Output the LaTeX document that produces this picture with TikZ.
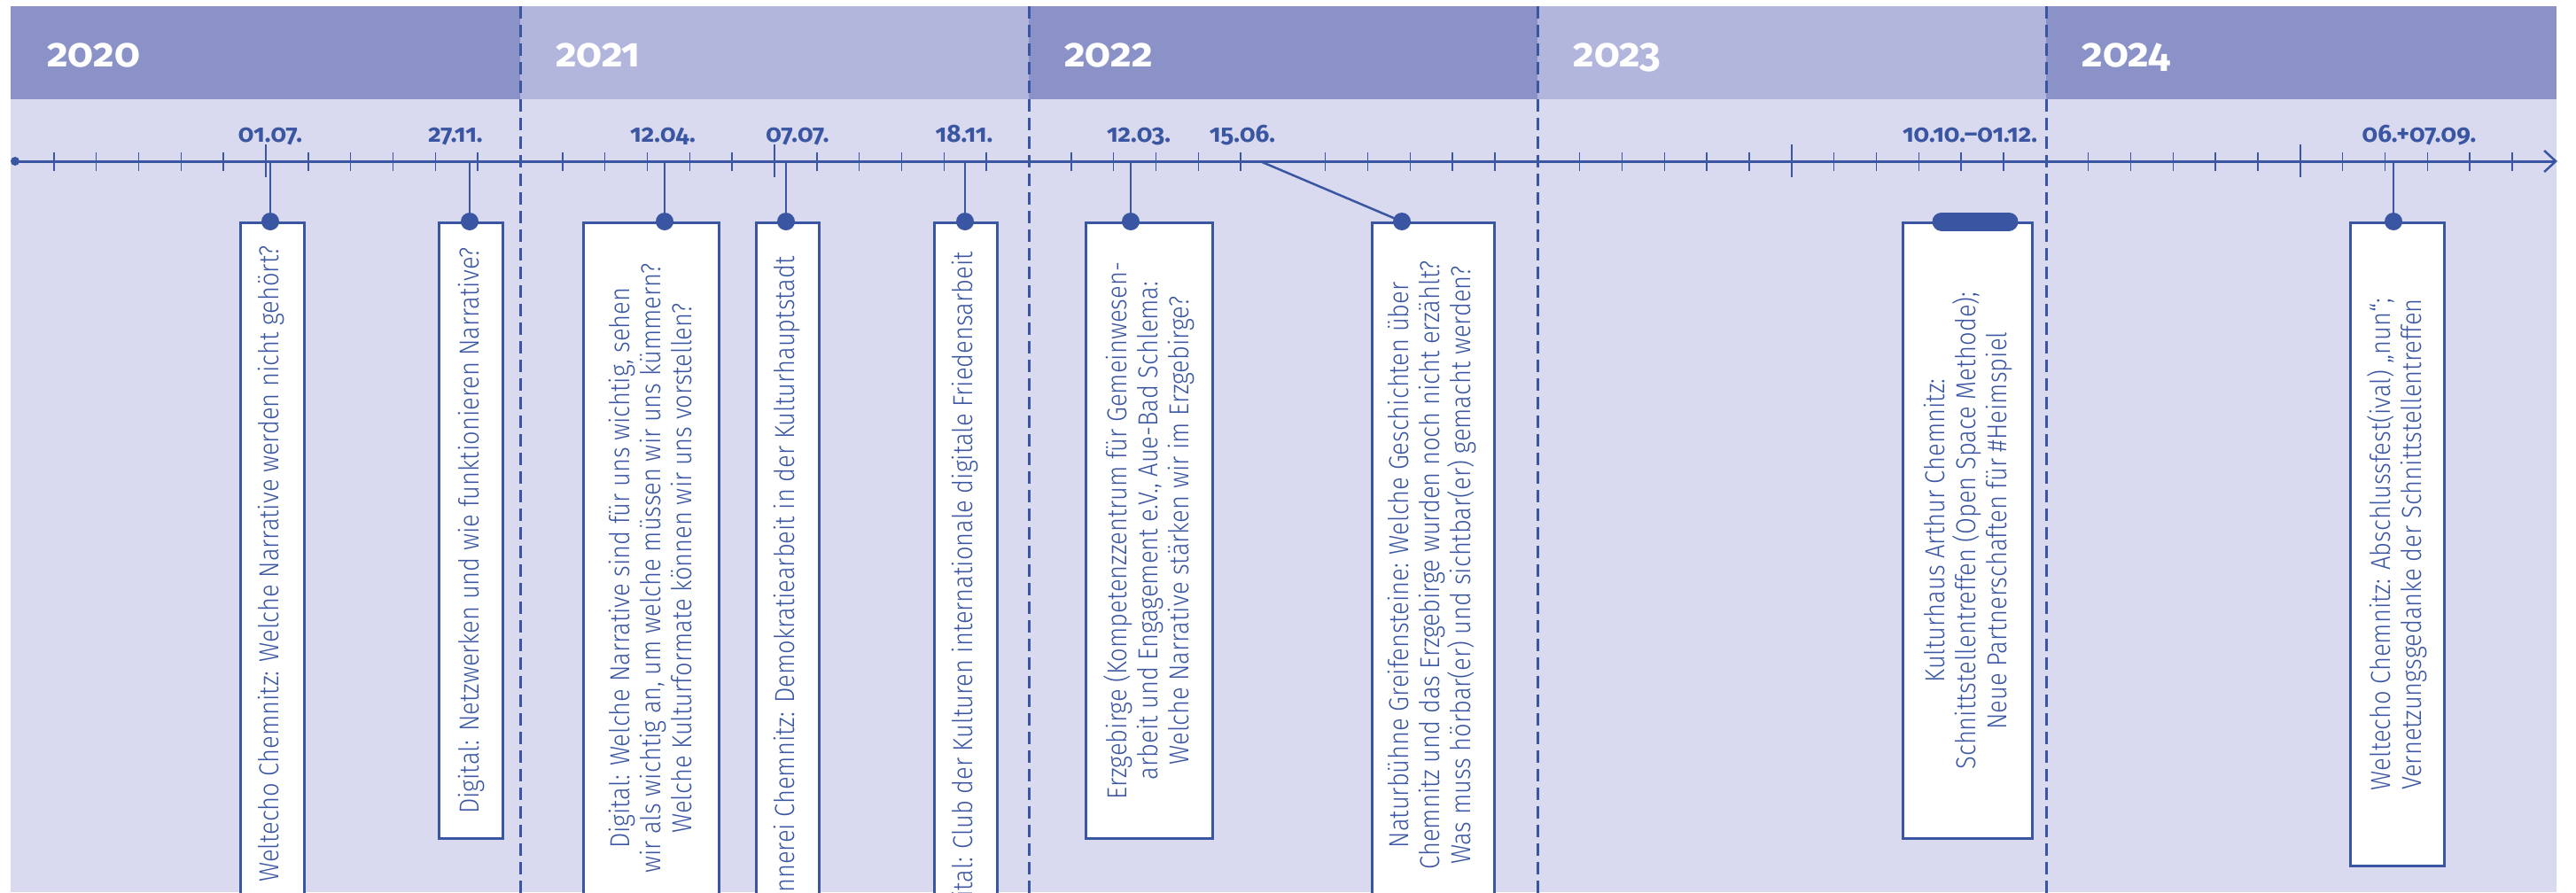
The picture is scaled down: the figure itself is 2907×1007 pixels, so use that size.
\documentclass[tikz,border=0pt]{standalone}
\usepackage{fontspec}
\usetikzlibrary{arrows.meta}
\IfFontExistsTF{Fira Sans Light}{%
  \newfontfamily\bodyfont{Fira Sans Light}[FakeStretch=0.88]}{%
  \newfontfamily\bodyfont{Fira Sans}[FakeStretch=0.88]}
\newfontfamily\datefont{Fira Sans}[Numbers=OldStyle]
\definecolor{hdark}{HTML}{8A92C7}
\definecolor{hlight}{HTML}{B2B5DC}
\definecolor{bodybg}{HTML}{D9DAEF}
\definecolor{tblue}{HTML}{3A56A2}
\begin{document}
\begin{tikzpicture}[x=1pt,y=-1pt,
  yearlabel/.style={anchor=base west, text=white, font=\datefont\bfseries\fontsize{46}{50}\selectfont, inner sep=0},
  datelabel/.style={anchor=base, text=tblue, font=\datefont\bfseries\fontsize{28}{30}\selectfont, inner sep=0},
  axisline/.style={draw=tblue, line width=3pt},
  tickmark/.style={draw=tblue, line width=1.5pt},
  yeardiv/.style={draw=tblue, line width=3pt, dash pattern=on 14pt off 7pt},
  eventbox/.style={draw=tblue, line width=3pt, fill=white, inner sep=0, anchor=north west},
  evtext/.style={rotate=90, text=tblue, align=center, font=\bodyfont\fontsize{31}{35}\selectfont, inner sep=0},
  conn/.style={draw=tblue, line width=2.5pt},
  evdot/.style={circle, fill=tblue, inner sep=0, minimum size=20pt},
  pill/.style={draw=tblue, line width=21pt, line cap=round}
]
\useasboundingbox (0,0) rectangle (2907,1007);
\clip (0,0) rectangle (2907,1007);
% background
\fill[bodybg] (12,7) rectangle (2885,1007);
\fill[hdark]  (12,7) rectangle (587,112);
\fill[hlight] (587,7) rectangle (1161,112);
\fill[hdark]  (1161,7) rectangle (1735,112);
\fill[hlight] (1735,7) rectangle (2309,112);
\fill[hdark]  (2309,7) rectangle (2885,112);
% year labels
\node[yearlabel] (y2020) at (53,75) {2020};
\node[yearlabel] (y2021) at (627,75) {2021};
\node[yearlabel] (y2022) at (1201,75) {2022};
\node[yearlabel] (y2023) at (1775,75) {2023};
\node[yearlabel] (y2024) at (2349,75) {2024};
% year dividers
\foreach \xx in {587,1161,1735,2309}{
  \draw[yeardiv] (\xx,7) -- (\xx,1010);
}
% ticks
\foreach \k in {1,...,59}{
  \pgfmathtruncatemacro\mm{mod(\k,12)}
  \pgfmathsetmacro\tx{13+47.83*\k}
  \ifnum\mm=0\relax\else
    \ifnum\mm=6\relax
      \ifnum\k=30\relax\else\draw[tickmark] (\tx,163) -- (\tx,200);\fi
    \else
      \draw[tickmark] (\tx,172) -- (\tx,193);
    \fi
  \fi
}
% axis
\node[circle, fill=tblue, inner sep=0, minimum size=10pt] (axs) at (17,182) {};
\coordinate (axe) at (2886,182);
\draw[axisline, -{Straight Barb[length=13pt,width=24pt,line width=2.5pt]}] (axs.center) -- (axe);
% date labels
\node[datelabel] (l1) at (305,160) {01.07.};
\node[datelabel] (l2) at (514,160) {27.11.};
\node[datelabel] (l3) at (748,160) {12.04.};
\node[datelabel] (l4) at (900,160) {07.07.};
\node[datelabel] (l5) at (1088,160) {18.11.};
\node[datelabel] (l6) at (1285,160) {12.03.};
\node[datelabel] (l7) at (1402,160) {15.06.};
\node[datelabel] (l8) at (2223,160) {10.10.–01.12.};
\node[datelabel] (l9) at (2730,160) {06.+07.09.};
% axis anchor points
\coordinate (a1) at (305,182);
\coordinate (a2) at (530,182);
\coordinate (a3) at (750,182);
\coordinate (a4) at (887,182);
\coordinate (a5) at (1089,182);
\coordinate (a6) at (1276,182);
\coordinate (a7) at (1422,182);
\coordinate (a9) at (2701,182);
% boxes
\node[eventbox, minimum width=72, minimum height=800] (b1) at (270,250) {};
\node[eventbox, minimum width=72, minimum height=695] (b2) at (494,250) {};
\node[eventbox, minimum width=153, minimum height=800] (b3) at (657,250) {};
\node[eventbox, minimum width=71, minimum height=800] (b4) at (852,250) {};
\node[eventbox, minimum width=71, minimum height=800] (b5) at (1053,250) {};
\node[eventbox, minimum width=143, minimum height=695] (b6) at (1224,250) {};
\node[eventbox, minimum width=138, minimum height=800] (b7) at (1547,250) {};
\node[eventbox, minimum width=146, minimum height=695] (b8) at (2146,250) {};
\node[eventbox, minimum width=106, minimum height=726] (b9) at (2651,250) {};
% dots
\node[evdot] (d1) at (305,250) {};
\node[evdot] (d2) at (530,250) {};
\node[evdot] (d3) at (750,250) {};
\node[evdot] (d4) at (887,250) {};
\node[evdot] (d5) at (1089,250) {};
\node[evdot] (d6) at (1276,250) {};
\node[evdot] (d7) at (1582,250) {};
\node[evdot] (d9) at (2701,250) {};
\coordinate (p1) at (2191,250);
\coordinate (p2) at (2267,250);
\draw[pill] (p1) -- (p2);
% connectors
\foreach \i in {1,2,3,4,5,6,7,9}{
  \draw[conn] (a\i) -- (d\i.center);
}
% texts
\node[evtext, anchor=east] (t1) at (306,277) {Weltecho Chemnitz: Welche Narrative werden nicht gehört?};
\node[evtext] (t2) at (b2.center) {Digital: Netzwerken und wie funktionieren Narrative?};
\node[evtext, anchor=east] (t3) at (733.5,297) {Digital: Welche Narrative sind für uns wichtig, sehen\\wir als wichtig an, um welche müssen wir uns kümmern?\\Welche Kulturformate können wir uns vorstellen?};
\node[evtext, anchor=east] (t4) at (887.5,289) {Spinnerei Chemnitz: Demokratiearbeit in der Kulturhauptstadt};
\node[evtext, anchor=east] (t5) at (1088.5,284) {Digital: Club der Kulturen internationale digitale Friedensarbeit};
\node[evtext] (t6) at (b6.center) {Erzgebirge (Kompetenzzentrum für Gemeinwesen-\\arbeit und Engagement e.V., Aue-Bad Schlema:\\Welche Narrative stärken wir im Erzgebirge?};
\node[evtext, anchor=east] (t7) at (1616,294) {Naturbühne Greifensteine: Welche Geschichten über\\Chemnitz und das Erzgebirge wurden noch nicht erzählt?\\Was muss hörbar(er) und sichtbar(er) gemacht werden?};
\node[evtext] (t8) at (b8.center) {Kulturhaus Arthur Chemnitz:\\Schnittstellentreffen (Open Space Methode);\\Neue Partnerschaften für \#Heimspiel};
\node[evtext] (t9) at (b9.center) {Weltecho Chemnitz: Abschlussfest(ival) „nun“;\\Vernetzungsgedanke der Schnittstellentreffen};
\end{tikzpicture}
\end{document}
